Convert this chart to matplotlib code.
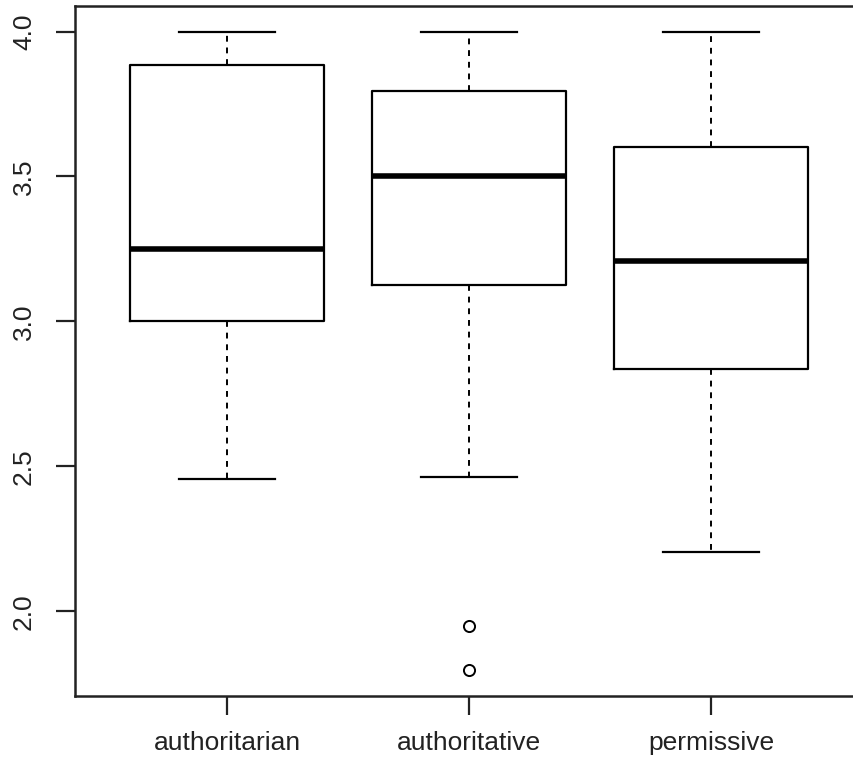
import matplotlib
matplotlib.use("Agg")
import matplotlib.pyplot as plt

categories = ["authoritarian", "authoritative", "permissive"]
whisker_low = [2.456, 2.463, 2.204]
q1 = [3.0, 3.126, 2.836]
median = [3.25, 3.5, 3.209]
q3 = [3.886, 3.796, 3.603]
whisker_high = [4.0, 4.0, 4.0]
outliers = [[], [1.948, 1.796], []]
yticks = [2.0, 2.5, 3.0, 3.5, 4.0]

plt.rcParams['font.family'] = ['Liberation Sans', 'DejaVu Sans']

fig = plt.figure(figsize=(8.54, 7.61), dpi=100)
ax = fig.add_axes([75/854, 65/761, 786/854, 690/761])

stats = []
for i, c in enumerate(categories):
    stats.append(dict(label=c, whislo=whisker_low[i], q1=q1[i], med=median[i],
                      q3=q3[i], whishi=whisker_high[i], fliers=outliers[i]))

ax.bxp(stats, positions=[1, 2, 3], widths=0.8, showfliers=True,
       boxprops=dict(color='black', linewidth=1.6),
       medianprops=dict(color='black', linewidth=4),
       whiskerprops=dict(color='black', linewidth=1.4, linestyle=(0, (3, 3))),
       capprops=dict(color='black', linewidth=1.6),
       flierprops=dict(marker='o', markersize=8, markerfacecolor='none',
                       markeredgecolor='black', markeredgewidth=1.4),
       capwidths=0.4)

ax.set_xlim(0.372, 3.62)
ax.set_ylim(1.708, 4.088)
ax.set_yticks(yticks)
ax.set_yticklabels([f"{v:.1f}" for v in yticks], rotation=90, va='center')
ax.set_xticks([1, 2, 3])
ax.set_xticklabels(categories)
ax.tick_params(axis='both', length=14, width=1.6, labelsize=19, color='#222222', labelcolor='#222222')
ax.tick_params(axis='x', pad=11)
ax.tick_params(axis='y', pad=14)
for s in ['left', 'bottom', 'top', 'right']:
    ax.spines[s].set_linewidth(1.8)
    ax.spines[s].set_color('#222222')

fig.savefig("out.png", dpi=100)
